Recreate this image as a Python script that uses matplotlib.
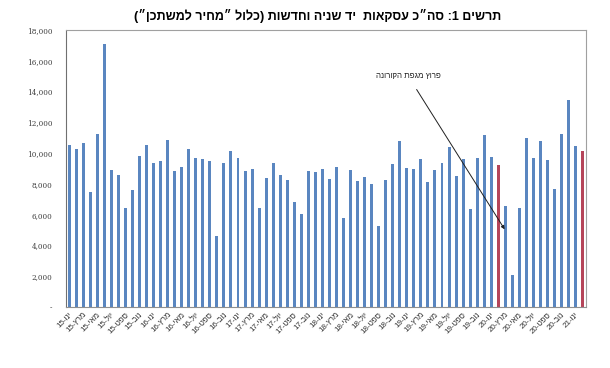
import matplotlib
matplotlib.use("Agg")
import matplotlib.pyplot as plt
import numpy as np

plt.rcParams['font.family'] = ['Liberation Sans', 'DejaVu Sans']

# monthly values Jan 2015 .. Feb 2021
values = [10540, 10260, 10630, 7500, 11240, 17060, 8910, 8570, 6460, 7610,
          9830, 10540, 9350, 9500, 10850, 8850, 9110, 10280, 9670, 9590,
          9500, 4630, 9350, 10130, 9700, 8830, 9000, 6460, 8390, 9370,
          8570, 8260, 6830, 6070, 8830, 8780, 8980, 8330, 9090, 5780,
          8890, 8200, 8460, 7980, 5240, 8240, 9280, 10760, 9040, 8980,
          9630, 8150, 8930, 9350, 10370, 8520, 9630, 6390, 9670, 11190,
          9740, 9240, 6570, 2070, 6410, 10980, 9670, 10800, 9540, 7700,
          11240, 13460, 10430, 10150]
years = [15, 16, 17, 18, 19, 20, 21]
# Hebrew month abbreviations (logical order)
months = ['ינו', 'פבר', 'מרץ', 'אפר', 'מאי', 'יונ', 'יול', 'אוג', 'ספט', 'אוק', 'נוב', 'דצמ']
highlight = [61, 73]  # Feb 2020, Feb 2021

title_logical = 'תרשים 1: סה״כ עסקאות  יד שניה וחדשות (כולל ״מחיר למשתכן״)'
note_logical = 'פרוץ מגפת הקורונה'

def vis(s):
    # visual order for simple RTL text
    return s[::-1]

title_visual = '(״ןכתשמל ריחמ״ לולכ) תושדחו הינש די  תואקסע כ״הס :1 םישרת'

labels = []
for i in range(len(values)):
    y = years[0] + i // 12
    m = months[i % 12]
    labels.append(f'{y}-' + vis(m))

blue = '#5A86C0'
red = '#B5455A'
colors = [red if i in highlight else blue for i in range(len(values))]

fig = plt.figure(figsize=(6.10, 3.68), dpi=100)
fig.patch.set_facecolor('white')
ax = fig.add_axes([66/610, 1-307/368, (585.5-66)/610, (307-30)/368])

x = np.arange(len(values))
ax.bar(x, values, width=0.42, color=colors, zorder=2)

ax.set_ylim(0, 18000)
ax.set_xlim(-0.45, len(values) - 0.6)
yt = np.arange(0, 18001, 2000)
ax.set_yticks(yt)
ax.set_yticklabels(['-'] + [f'{v:,}' for v in yt[1:]], fontsize=5.2, color='#404040',
                   family=['DejaVu Serif'])
ax.tick_params(axis='y', length=0, pad=10)

ticks = x[::2]
ax.set_xticks(ticks)
ax.set_xticklabels([labels[i] for i in ticks], rotation=45, ha='right',
                   rotation_mode='anchor', fontsize=5.8, color='#333333')
ax.tick_params(axis='x', length=0, pad=3)

for s in ['top', 'right']:
    ax.spines[s].set_color('#A0A0A0')
    ax.spines[s].set_linewidth(0.8)
ax.spines['left'].set_color('#707070')
ax.spines['bottom'].set_color('#909090')
for s in ['left', 'bottom']:
    ax.spines[s].set_linewidth(0.8)

ax.annotate(vis(note_logical), xy=(61.9, 5050), xytext=(48.2, 15000),
            ha='center', va='center', fontsize=5.8, color='#202020',
            arrowprops=dict(arrowstyle='-|>', color='#202020', lw=0.7,
                            mutation_scale=5, shrinkA=6, shrinkB=0))

fig.text(0.52, 1 - 16/368, title_visual, ha='center', va='center',
         fontsize=9, fontweight='bold', color='black')

fig.savefig('out.png', dpi=100)
